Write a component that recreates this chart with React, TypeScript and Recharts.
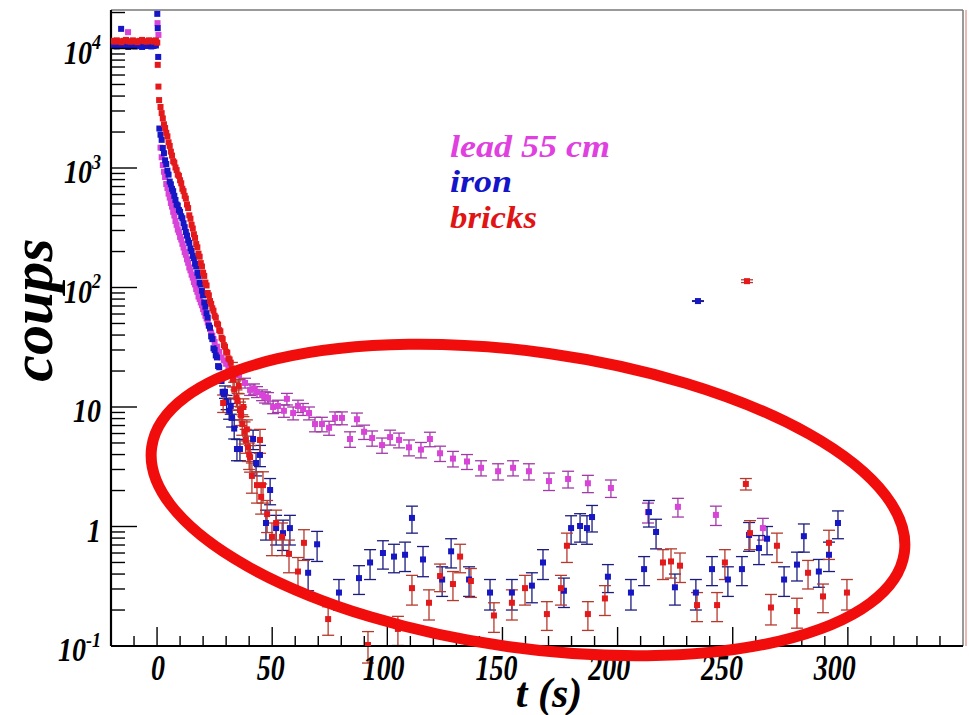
import { ScatterChart, Scatter, XAxis, YAxis, ErrorBar, ReferenceLine } from 'recharts';

type Pt = [number, number, number?];

const seriesNames = ['lead 55 cm', 'iron', 'bricks'];

const xTicks = [-20, -10, 0, 10, 20, 30, 40, 50, 60, 70, 80, 90, 100, 110, 120, 130, 140, 150, 160, 170, 180, 190, 200, 210, 220, 230, 240, 250, 260, 270, 280, 290, 300, 310, 320, 330, 340];
const xLabels = [0, 50, 100, 150, 200, 250, 300];

const yTicks = [
  0.1, 0.2, 0.3, 0.4, 0.5, 0.6, 0.7, 0.8, 0.9,
  1, 2, 3, 4, 5, 6, 7, 8, 9,
  10, 20, 30, 40, 50, 60, 70, 80, 90,
  100, 200, 300, 400, 500, 600, 700, 800, 900,
  1000, 2000, 3000, 4000, 5000, 6000, 7000, 8000, 9000,
  10000, 20000,
];
// value, base, exponent
const yLabels: [number, string, string][] = [
  [0.1, '10', '-1'],
  [1, '1', ''],
  [10, '10', ''],
  [100, '10', '2'],
  [1000, '10', '3'],
  [10000, '10', '4'],
];

// t (s), coups, error
const leadPts: Pt[] = [
  [-19.5, 11000], [-18.5, 10900], [-17.5, 11100], [-16.5, 11000], [-15.5, 10800], [-14.5, 11100], [-13.5, 11000],
  [-12.6, 13700], [-11.5, 10900], [-10.5, 11000], [-9.5, 11200], [-8.5, 10900], [-7.5, 11000], [-6.5, 11100],
  [-5.5, 10800], [-4.5, 11000], [-3.5, 11100], [-2.5, 10900], [-1.5, 11000], [-0.5, 11000],
  [0.2, 16300], [0.6, 13000],
  [1.5, 1480], [2, 1230], [2.5, 1060], [3, 930], [3.5, 840], [4, 735], [4.5, 680], [5, 610], [5.5, 565], [6, 510],
  [6.5, 475], [7, 430], [7.5, 400], [8, 360], [8.5, 335], [9, 305], [9.5, 290], [10, 265], [10.5, 252], [11, 232],
  [11.5, 216], [12, 198], [12.5, 188], [13, 172], [13.5, 161], [14, 147], [14.5, 139], [15, 128], [15.5, 121],
  [16, 111], [16.5, 106], [17, 97], [17.5, 92], [18, 84], [18.5, 80], [19, 75], [19.5, 71], [20, 66], [20.5, 62],
  [21, 58], [21.5, 55], [22, 51], [22.5, 48], [23, 45], [23.5, 42], [24, 39.5], [24.5, 37], [25, 35], [26, 32],
  [27, 29], [28, 26], [29, 24.5], [30, 23], [31, 21.5], [32, 20.5], [33, 19.5], [34, 19],
  [35.6, 18.5, 1.6], [38.2, 15.9, 1.5], [40.4, 13.9, 1.4], [42.1, 14.2, 1.4], [43.4, 13.4, 1.4], [45.6, 12.6, 1.3],
  [46.9, 12.1, 1.3], [48.2, 11.9, 1.3], [50.4, 10.0, 1.2], [52.5, 10.2, 1.2], [55.1, 9.3, 1.1], [56.4, 11.7, 1.3],
  [59.1, 8.9, 1.1], [61.2, 10.2, 1.2], [63.4, 9.6, 1.1], [66, 8.9, 1.1], [68.6, 7.2, 1.0], [71.6, 7.2, 1.0],
  [74.7, 6.7, 0.9], [77.3, 8.1, 1.0], [80.3, 8.1, 1.0], [83.8, 5.4, 0.8], [86.8, 7.9, 1.0], [89.9, 6.2, 0.85],
  [93.4, 5.5, 0.8], [97.7, 4.8, 0.7], [101.2, 5.6, 0.8], [105.1, 5.3, 0.75], [109.4, 4.6, 0.7], [114.6, 4.4, 0.65],
  [118.5, 5.4, 0.75], [122.9, 4.1, 0.6], [128.5, 3.7, 0.55], [134.6, 3.5, 0.5], [140.7, 3.1, 0.45], [148.1, 2.9, 0.45],
  [154.6, 3.1, 0.45], [161.5, 2.9, 0.45], [170.2, 2.4, 0.4], [178.5, 2.5, 0.4], [187.1, 2.3, 0.38], [197.1, 2.1, 0.35],
  [213.2, 1.32, 0.25], [226.2, 1.46, 0.26], [242.7, 1.25, 0.23], [263.1, 0.97, 0.2],
];

const ironPts: Pt[] = [
  [-19.5, 10500], [-18.5, 10600], [-17.5, 10400], [-16.5, 10700], [-15.6, 14600], [-14.5, 10500], [-13.5, 10600],
  [-12.5, 10300], [-11.5, 10500], [-10.5, 10700], [-9.5, 10400], [-8.5, 10600], [-7.5, 10500], [-6.5, 10300],
  [-5.5, 10600], [-4.5, 10500], [-3.5, 10700], [-2.5, 10400], [-1.5, 10500], [-0.5, 10600],
  [0.1, 19500], [0.3, 14800], [0.5, 8500],
  [1, 2140], [1.5, 1900], [2, 1720], [2.5, 1470], [3, 1330], [3.5, 1160], [4, 1080], [4.5, 950], [5, 880], [5.5, 770],
  [6, 730], [6.5, 670], [7, 640], [7.5, 585], [8, 540], [8.5, 495], [9, 485], [9.5, 445], [10, 430], [10.5, 395],
  [11, 380], [11.5, 345], [12, 320], [12.5, 292], [13, 272], [13.5, 248], [14, 236], [14.5, 212], [15, 202],
  [15.5, 184], [16, 176], [16.5, 158], [17, 150], [17.5, 133], [18, 125], [18.5, 110], [19, 106], [19.5, 94],
  [20, 86], [20.5, 75], [21, 69], [21.5, 61], [22, 56], [22.5, 48], [23, 46], [23.5, 39], [24, 37], [24.5, 31],
  [25, 30], [25.5, 27], [26, 26], [26.5, 22], [27, 21.5], [27.5, 17.5], [28, 16.5], [28.5, 13.4], [29, 12.8],
  [29.5, 13.4, 1.6], [30.2, 11, 1.5], [31.3, 9.3, 1.4], [32, 10.2, 1.5], [32.6, 8.1, 1.3], [33.5, 6.6, 1.2],
  [34.7, 4.45, 0.9], [36, 4.45, 0.9], [41.7, 5.4, 1.0], [43, 3.4, 0.75], [44.7, 3.97, 0.8], [47.3, 1.07, 0.3],
  [49.1, 2.02, 0.5], [51.7, 0.97, 0.27], [54.7, 0.88, 0.25], [57.7, 0.97, 0.27], [65.6, 0.41, 0.12], [69.5, 0.71, 0.2],
  [79, 0.28, 0.08], [87.7, 0.37, 0.1], [92.5, 0.5, 0.14], [98.1, 0.6, 0.16], [102.9, 0.56, 0.15], [107.7, 0.58, 0.16],
  [110.7, 1.18, 0.3], [115.5, 0.53, 0.15], [123.8, 0.36, 0.1], [127.7, 0.62, 0.17], [135.5, 0.36, 0.1],
  [144.6, 0.28, 0.08], [154.1, 0.28, 0.08], [162.8, 0.32, 0.09], [167.6, 0.5, 0.14], [176.7, 0.29, 0.08],
  [179.8, 0.97, 0.26], [183.7, 1.01, 0.27], [186.7, 0.97, 0.26], [188.9, 1.2, 0.3], [195.8, 0.38, 0.1],
  [205.8, 0.28, 0.08], [211.5, 0.44, 0.12], [213.6, 1.32, 0.33], [216.7, 0.9, 0.25], [224.9, 0.31, 0.09],
  [234, 0.28, 0.08], [234.9, 77, 0.5], [241, 0.44, 0.12], [247.9, 0.36, 0.1], [254, 0.44, 0.12], [257.1, 0.85, 0.23],
  [261.4, 0.66, 0.18], [264.9, 0.79, 0.21], [272.3, 0.36, 0.1], [277.9, 0.48, 0.13], [280.9, 0.83, 0.22],
  [287.4, 0.42, 0.11], [291.8, 0.58, 0.16], [295.7, 1.07, 0.28],
];

const brickPts: Pt[] = [
  [-19.5, 11600], [-18.5, 11400], [-17.5, 11700], [-16.5, 11500], [-15.5, 11300], [-14.5, 11600], [-13.5, 11800],
  [-12.5, 11500], [-11.5, 11400], [-10.5, 11700], [-9.5, 11500], [-8.5, 11300], [-7.5, 11600], [-6.5, 11800],
  [-5.5, 11500], [-4.5, 11400], [-3.5, 11700], [-2.5, 11600], [-1.5, 11400], [-0.5, 11700],
  [0.1, 11200], [0.3, 7300], [0.6, 4800], [0.9, 3700],
  [1.5, 3240], [2, 2880], [2.5, 2600], [3, 2320], [3.5, 2160], [4, 1970], [4.5, 1840], [5, 1640], [5.5, 1530],
  [6, 1370], [6.5, 1270], [7, 1140], [7.5, 1110], [8, 1010], [8.5, 960], [9, 880], [9.5, 860], [10, 790],
  [10.5, 745], [11, 670], [11.5, 640], [12, 585], [12.5, 555], [13, 495], [13.5, 462], [14, 402], [14.5, 376],
  [15, 335], [15.5, 312], [16, 279], [16.5, 260], [17, 231], [17.5, 217], [18, 192], [18.5, 181], [19, 160],
  [19.5, 150], [20, 133], [20.5, 125], [21, 110], [21.5, 104], [22, 90], [22.5, 86], [23, 77], [23.5, 73],
  [24, 67], [24.5, 64], [25, 58], [25.5, 56], [26, 50], [26.5, 49], [27, 44], [27.5, 43], [28, 38], [28.5, 37],
  [29, 33], [29.5, 32], [30, 29], [30.5, 28.5], [31, 25.5], [31.5, 25], [32, 23.5],
  [28.7, 10.8, 1.8], [32.5, 21, 2.6], [33, 17, 2.3], [33.5, 14, 2.1], [34, 19, 2.5], [34.5, 12, 1.9], [35, 11.2, 1.8],
  [35.5, 15, 2.1], [36, 9.4, 1.6], [36.5, 8.5, 1.5], [37, 7.2, 1.4], [37.5, 10, 1.7], [38, 6.2, 1.3], [38.5, 5.3, 1.2],
  [39, 6.5, 1.3], [39.5, 4.6, 1.1], [40, 4.0, 1.0], [40.4, 3.8, 0.95], [41.2, 2.65, 0.75], [43.4, 2.22, 0.65],
  [44.7, 5.3, 1.2], [45.2, 1.77, 0.5], [46, 2.22, 0.65], [47.8, 1.27, 0.38], [49.9, 0.82, 0.25], [51.7, 1.07, 0.3],
  [54.3, 0.82, 0.25], [57.3, 0.59, 0.18], [61.2, 0.42, 0.13], [63.8, 0.73, 0.21], [74.3, 0.168, 0.045],
  [91.6, 0.102, 0.03], [104.6, 0.139, 0.038], [110.7, 0.305, 0.085], [118.1, 0.23, 0.065], [122.9, 0.385, 0.1],
  [128.5, 0.33, 0.09], [131.6, 0.56, 0.15], [136.3, 0.35, 0.095], [146.3, 0.18, 0.05], [154.1, 0.23, 0.065],
  [159.8, 0.305, 0.085], [169.3, 0.185, 0.05], [175.4, 0.305, 0.085], [178, 0.69, 0.19], [187.1, 0.185, 0.05],
  [194.5, 0.25, 0.07], [219.7, 0.5, 0.14], [223.2, 0.51, 0.14], [227.1, 0.47, 0.13], [234.5, 0.22, 0.06],
  [243.2, 0.22, 0.06], [246.6, 0.5, 0.14], [255.7, 2.27, 0.25], [256.2, 113, 3], [257.5, 0.88, 0.24],
  [266.6, 0.21, 0.06], [269.2, 0.69, 0.19], [277.9, 0.196, 0.055], [282.7, 0.41, 0.11], [289.2, 0.26, 0.07],
  [291.8, 0.73, 0.2], [299.6, 0.28, 0.08],
];

const FONT = "'Liberation Serif', 'DejaVu Serif', serif";
const COLORS = { lead: '#d843d8', iron: '#1616c4', brick: '#e3191c' };
const BAR_COLORS = { lead: '#a23aa8', iron: '#1c1c80', brick: '#b5392c' };

const toRows = (pts: Pt[]) => pts.map(([t, v, e]) => ({ t, v, e: e ?? 0 }));

const square = (color: string) => (props: any) => {
  const { cx, cy } = props;
  if (cx == null || cy == null || isNaN(cx) || isNaN(cy)) return <g />;
  return <rect x={cx - 3} y={cy - 3} width={6} height={6} fill={color} />;
};

function XTick(props: any) {
  const { x, y, payload } = props;
  const v = payload.value as number;
  const major = v % 50 === 0;
  // labels in the original drift slightly left of their ticks
  const shift = 1 - v * 0.047;
  return (
    <g>
      <line x1={x} x2={x} y1={y} y2={y - (major ? 19 : 10)} stroke="#000" strokeWidth={1.4} />
      {xLabels.includes(v) && (
        <text
          transform={`translate(${x + shift} ${y + 34}) scale(1 1.25)`}
          textAnchor="middle"
          fontFamily={FONT}
          fontWeight="bold"
          fontStyle="italic"
          fontSize={28}
          fill="#000"
        >
          {v}
        </text>
      )}
    </g>
  );
}

function YTick(props: any) {
  const { x, y, payload } = props;
  const v = payload.value as number;
  const lab = yLabels.find((l) => Math.abs(l[0] - v) < 1e-9);
  return (
    <g>
      <line x1={x} x2={x + (lab ? 26 : 14)} y1={y} y2={y} stroke="#000" strokeWidth={1.4} />
      {lab && (
        <text
          transform={`translate(${x - 10} ${y + 15}) scale(1 1.2)`}
          textAnchor="end"
          fontFamily={FONT}
          fontWeight="bold"
          fontStyle="italic"
          fontSize={28}
          fill="#000"
        >
          {lab[1]}
          {lab[2] && (
            <tspan dy={-12} fontSize={18}>
              {lab[2]}
            </tspan>
          )}
        </text>
      )}
    </g>
  );
}

export default function App() {
  const series = [
    { name: seriesNames[0], rows: toRows(leadPts), color: COLORS.lead, bar: BAR_COLORS.lead },
    { name: seriesNames[1], rows: toRows(ironPts), color: COLORS.iron, bar: BAR_COLORS.iron },
    { name: seriesNames[2], rows: toRows(brickPts), color: COLORS.brick, bar: BAR_COLORS.brick },
  ];

  return (
    <div style={{ position: 'absolute', left: 0, top: 0, width: 969, height: 715, background: '#fff' }}>
      <ScatterChart width={969} height={715} margin={{ top: 10, right: 6, bottom: 0, left: 0 }}>
        <XAxis
          type="number"
          dataKey="t"
          domain={[-20, 350]}
          allowDataOverflow
          ticks={xTicks}
          interval={0}
          height={69}
          tickSize={0}
          tickMargin={0}
          tickLine={false}
          axisLine={{ stroke: '#000', strokeWidth: 2.2 }}
          tick={XTick}
        />
        <YAxis
          type="number"
          dataKey="v"
          scale="log"
          domain={[0.1, 21000]}
          allowDataOverflow
          ticks={yTicks}
          interval={0}
          width={111}
          tickSize={0}
          tickMargin={0}
          tickLine={false}
          axisLine={{ stroke: '#000', strokeWidth: 2.2 }}
          tick={YTick}
        />
        <ReferenceLine y={21000} stroke="#777" strokeWidth={1.5} />
        <ReferenceLine x={350} stroke="#777" strokeWidth={1.5} />
        {series.map((s) => (
          <Scatter
            key={s.name}
            name={s.name}
            data={s.rows}
            shape={square(s.color)}
            isAnimationActive={false}
          >
            <ErrorBar dataKey="e" direction="y" width={6} stroke={s.bar} strokeWidth={1.3} />
          </Scatter>
        ))}
      </ScatterChart>
      <svg
        width={969}
        height={715}
        style={{ position: 'absolute', left: 0, top: 0, pointerEvents: 'none' }}
      >
        <line x1={966} x2={966} y1={10} y2={646} stroke="#e6a2a2" strokeWidth={1.5} />
        <ellipse
          cx={528}
          cy={500}
          rx={380}
          ry={148}
          transform="rotate(8 528 500)"
          fill="none"
          stroke="#f20d0d"
          strokeWidth={11}
        />
        <g fontFamily={FONT} fontWeight="bold" fontStyle="italic">
          <text x={450} y={157} fontSize={31} textLength={160} lengthAdjust="spacingAndGlyphs" fill="#e040e0">
            {seriesNames[0]}
          </text>
          <text x={450} y={192} fontSize={31} textLength={62} lengthAdjust="spacingAndGlyphs" fill="#1414c8">
            {seriesNames[1]}
          </text>
          <text x={450} y={228} fontSize={31} textLength={87} lengthAdjust="spacingAndGlyphs" fill="#e01414">
            {seriesNames[2]}
          </text>
          <text x={549} y={707} fontSize={42} textAnchor="middle" fill="#000">t (s)</text>
          <text
            transform="translate(52 310) rotate(-90)"
            fontSize={60}
            textAnchor="middle"
            fill="#000"
          >
            coups
          </text>
        </g>
      </svg>
    </div>
  );
}
